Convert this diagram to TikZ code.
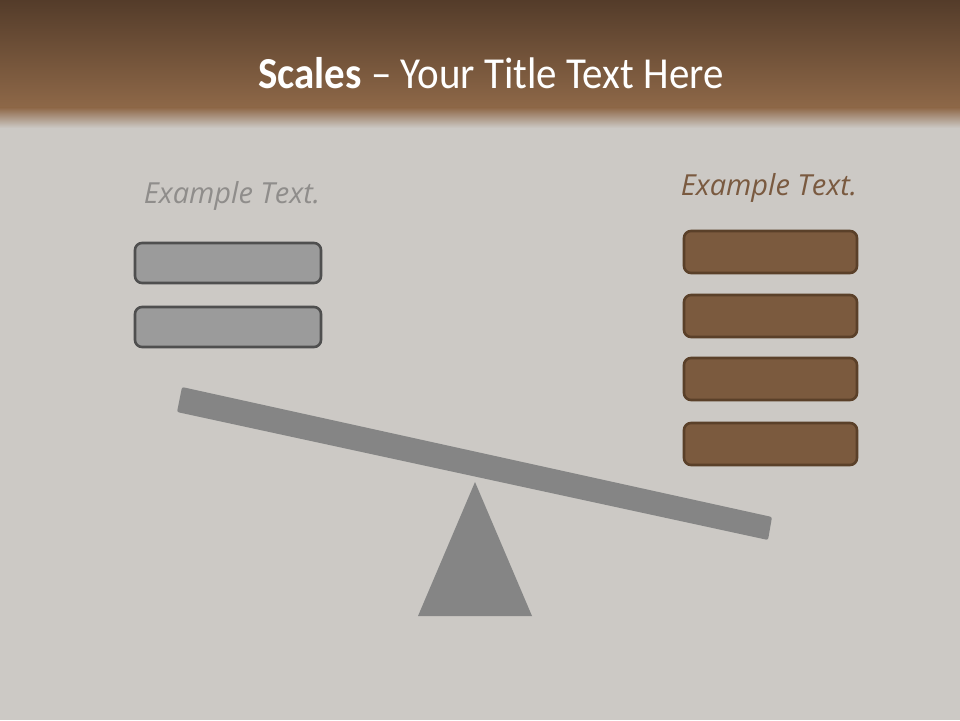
\documentclass[tikz,border=0pt]{standalone}
\usepackage{fontspec}
\setmainfont{Carlito}
\newfontfamily\exfont{Open Sans}
\definecolor{bggray}{HTML}{CCC9C5}
\definecolor{bandtop}{HTML}{543C2A}
\definecolor{bandbot}{HTML}{8E6848}
\definecolor{greyfill}{HTML}{9B9B9B}
\definecolor{greyline}{HTML}{4F4F4F}
\definecolor{brownfill}{HTML}{7B5A3E}
\definecolor{brownline}{HTML}{5A4029}
\definecolor{greytext}{HTML}{8F8D8B}
\definecolor{browntext}{HTML}{7A5A40}
\definecolor{scalegray}{HTML}{858585}
\tikzset{
  greybox/.style={draw=greyline, fill=greyfill, line width=2.6pt, rounded corners=7pt},
  brownbox/.style={draw=brownline, fill=brownfill, line width=2.6pt, rounded corners=7pt},
  extext/.style={font=\exfont\itshape\fontsize{29}{34}\selectfont, anchor=base, inner sep=0pt},
}
\begin{document}
\begin{tikzpicture}[x=1pt,y=-1pt]
\useasboundingbox (0,0) rectangle (960,720);
\fill[bggray] (0,0) rectangle (960,720);
\shade[top color=bandtop, bottom color=bandbot] (0,0) rectangle (960,108);
\shade[top color=bandbot, bottom color=bggray] (0,107.5) rectangle (960,128);
\node[anchor=base, text=white, inner sep=0pt, font=\fontsize{41}{48}\selectfont, yscale=1.08] (title) at (491,88) {\textbf{Scales} -- Your Title Text Here};
\node[extext, text=greytext] (lt) at (232,203) {Example Text.};
\node[extext, text=browntext] (rt) at (769,195) {Example Text.};
\draw[greybox] (135,243) rectangle (321,283);
\draw[greybox] (135,307) rectangle (321,347);
\foreach \y in {231,295,358,423} {
  \draw[brownbox] (684,\y) rectangle (857,\y+42);
}
\fill[scalegray] (475,482) -- (532,616) -- (418,616) -- cycle;
\fill[scalegray, rounded corners=2pt] (182,387) -- (772,517) -- (768,540) -- (177,412) -- cycle;
\end{tikzpicture}
\end{document}
